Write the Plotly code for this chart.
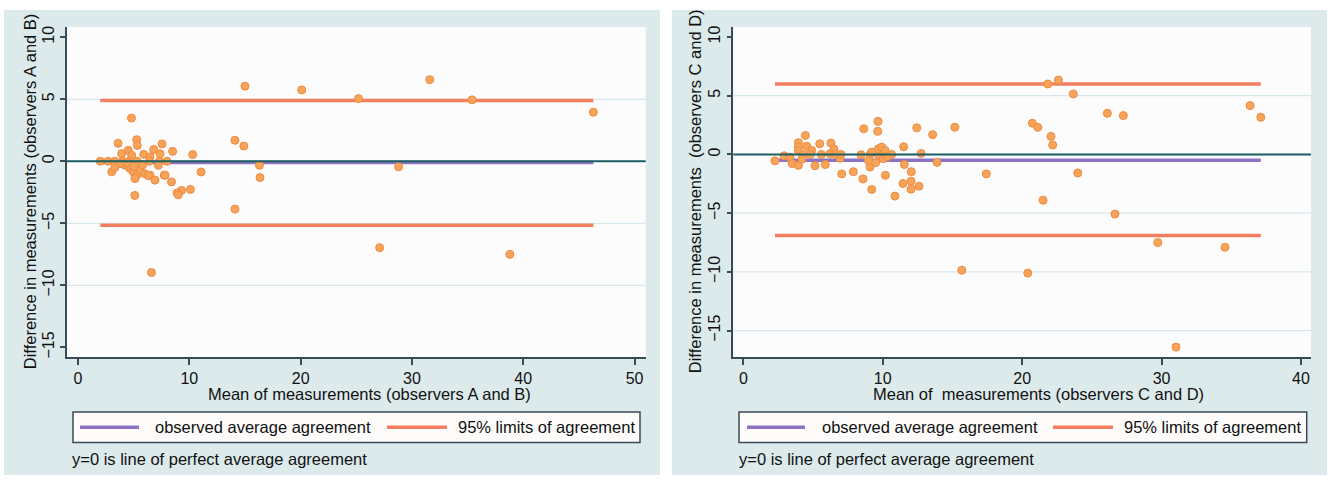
import plotly.graph_objects as go

W, H = 1330, 484

# ---------------- data ----------------
# Left panel: observers A and B
ab_mean = [15.0, 20.1, 25.2, 31.6, 35.4, 46.3, 28.8, 27.1, 38.8, 6.6,
           14.1, 14.9, 16.3, 16.35, 14.1, 10.3, 11.05, 10.1, 9.3, 8.9,
           5.1, 8.4, 7.75, 8.5, 7.55, 6.8, 5.9, 3.6, 5.27, 3.03,
           4.8, 5.33, 3.92, 4.52, 4.82, 7.37, 6.47,
           2.0, 2.7, 3.3, 4.0, 4.6, 5.3, 6.4, 7.3, 8.0,
           4.22, 4.67, 4.97, 5.27, 5.57, 5.12, 6.47, 6.92, 7.22, 7.82,
           3.77, 4.4, 5.8, 6.0, 5.0, 3.3, 6.3, 9.0]
ab_diff = [6.05, 5.75, 5.05, 6.58, 4.95, 3.96, -0.45, -6.96, -7.5, -8.96,
           1.69, 1.23, -0.32, -1.31, -3.85, 0.54, -0.86, -2.27, -2.35, -2.55,
           -2.75, -1.66, -1.12, 0.8, 1.4, 0.95, 0.56, 1.45, 1.74, -0.85,
           3.48, 1.28, 0.61, 0.88, 0.48, 0.61, 0.35,
           0.0, 0.0, 0.0, 0.0, 0.0, 0.0, 0.0, 0.0, 0.0,
           -0.32, -0.59, -0.86, -1.12, -0.72, -1.39, -1.12, -1.52, -0.32, -1.12,
           -0.19, -0.1, -0.3, -1.0, -0.4, -0.5, -1.15, -2.7]
ab_avg = -0.1
ab_limits = [-5.15, 4.9]

# Right panel: observers C and D
cd_mean = [21.84, 22.6, 23.67, 26.11, 27.26, 36.35, 37.12, 20.73, 21.12, 22.07,
           22.19, 23.99, 21.5, 26.66, 29.73, 34.55, 20.4, 31.04, 15.67, 17.43,
           15.17, 13.58, 12.44, 13.9, 12.75, 11.5, 11.55, 12.05, 11.45, 12.03,
           12.03, 12.6, 10.88, 10.19, 9.21, 8.58, 9.09, 8.64, 9.66, 9.64,
           7.06, 7.89,
           2.27, 2.93, 3.35, 3.5, 3.95, 4.45, 3.95, 3.95, 3.95, 4.55,
           4.9, 5.48, 5.14, 5.88, 6.28, 6.5, 6.22, 6.94, 4.3, 4.8,
           5.6, 6.6, 7.0, 8.44, 9.09, 9.69, 10.16, 10.64, 9.21, 9.69,
           9.93, 10.17, 10.04, 8.97, 9.5, 10.3, 4.2]
cd_diff = [5.99, 6.33, 5.14, 3.5, 3.3, 4.15, 3.16, 2.65, 2.3, 1.53,
           0.8, -1.58, -3.9, -5.08, -7.5, -7.9, -10.1, -16.4, -9.85, -1.66,
           2.31, 1.68, 2.26, -0.68, 0.08, 0.65, -0.86, -1.47, -2.48, -2.28,
           -2.96, -2.71, -3.55, -1.78, -2.98, -2.09, -1.07, 2.18, 2.81, 1.96,
           -1.66, -1.47,
           -0.55, -0.12, -0.23, -0.78, -0.93, 1.61, 1.0, 0.62, 0.3, 0.7,
           0.34, 0.9, -0.96, -0.86, 0.96, 0.45, 0.06, -0.33, 0.0, 0.0,
           0.0, 0.0, 0.0, -0.03, 0.0, 0.0, 0.0, 0.0, 0.2, 0.48,
           0.62, 0.34, -0.37, -0.51, -0.7, -0.2, -0.4]
cd_avg = -0.5
cd_limits = [-6.9, 6.0]

x_ticks_ab = [0, 10, 20, 30, 40, 50]
x_ticks_cd = [0, 10, 20, 30, 40]
y_ticks = [-15, -10, -5, 0, 5, 10]
grid_ab = [-10, -5, 0, 5]
grid_cd = [-15, -10, -5, 0, 5]

xtitle_ab = "Mean of measurements (observers A and B)"
xtitle_cd = "Mean of\u00a0 measurements (observers C and D)"
ytitle_ab = "Difference in measurements (observers A and B)"
ytitle_cd = "Difference in measurements\u00a0 (observers C and D)"
legend_labels = ["observed average agreement", "95% limits of agreement"]
note_text = "y=0 is line of perfect average agreement"

# ---------------- styles ----------------
FONT = "Liberation Sans, Arial, sans-serif"
PANEL = "#DCEAEC"
PLOTBG = "#FCFCFD"
AXIS = "#3A4A56"
GRID = "#CFE4EA"
ORANGE_PT = "#F8A458"
ORANGE_EDGE = "#EE8B43"
LIMIT = "#F47F60"
PURPLE = "#8E72C2"
TEAL = "#1B5F63"
TXT = "#111111"

def px(x):
    return x / W

def py(y):
    return 1 - y / H

# plot-area geometry (pixels)
L1, R1 = 67, 645.7
L2, R2 = 733.3, 1311
TOP, BOT = 26, 357.7

fig = go.Figure()

def add_panel(xa, ya, xs, ys, avg, lims):
    xmin, xmax = min(xs), max(xs)
    # limits
    for j, lv in enumerate(lims):
        fig.add_trace(go.Scatter(x=[xmin, xmax], y=[lv, lv], mode="lines",
                                 line=dict(color=LIMIT, width=3.5),
                                 xaxis=xa, yaxis=ya, showlegend=False, hoverinfo="skip"))
    # average
    fig.add_trace(go.Scatter(x=[xmin, xmax], y=[avg, avg], mode="lines",
                             line=dict(color=PURPLE, width=3.5),
                             xaxis=xa, yaxis=ya, showlegend=False, hoverinfo="skip"))
    # points
    fig.add_trace(go.Scatter(x=xs, y=ys, mode="markers",
                             marker=dict(size=8, color=ORANGE_PT,
                                         line=dict(color=ORANGE_EDGE, width=1)),
                             xaxis=xa, yaxis=ya, showlegend=False))

add_panel("x", "y", ab_mean, ab_diff, ab_avg, ab_limits)
add_panel("x2", "y2", cd_mean, cd_diff, cd_avg, cd_limits)

shapes = []
# panel backgrounds
for (a, b) in [(4, 660), (672, 1327)]:
    shapes.append(dict(type="rect", xref="paper", yref="paper",
                       x0=px(a), x1=px(b), y0=py(476), y1=py(9),
                       fillcolor=PANEL, line=dict(width=0), layer="below"))
# plot backgrounds
for (a, b) in [(L1, R1), (L2, R2)]:
    shapes.append(dict(type="rect", xref="paper", yref="paper",
                       x0=px(a), x1=px(b), y0=py(BOT), y1=py(TOP),
                       fillcolor=PLOTBG, line=dict(width=0), layer="below"))
# gridlines
for xr, yr, vals in [("x", "y", grid_ab), ("x2", "y2", grid_cd)]:
    for v in vals:
        shapes.append(dict(type="line", xref=xr + " domain", yref=yr,
                           x0=0, x1=1, y0=v, y1=v,
                           line=dict(color=GRID, width=1), layer="below"))
# y=0 perfect agreement line (above traces)
for xr, yr in [("x", "y"), ("x2", "y2")]:
    shapes.append(dict(type="line", xref=xr + " domain", yref=yr,
                       x0=0, x1=1, y0=0, y1=0,
                       line=dict(color=TEAL, width=2), layer="above"))

annotations = []

def legend_block(box_l, box_r, s1, t1, s2, t2, note_x, xt_center, xtitle, yt_x, ytitle):
    shapes.append(dict(type="rect", xref="paper", yref="paper",
                       x0=px(box_l), x1=px(box_r), y0=py(443.3), y1=py(412.7),
                       fillcolor="#FDFCFB", line=dict(color=AXIS, width=1.5)))
    shapes.append(dict(type="line", xref="paper", yref="paper",
                       x0=px(s1[0]), x1=px(s1[1]), y0=py(428), y1=py(428),
                       line=dict(color=PURPLE, width=3.5)))
    shapes.append(dict(type="line", xref="paper", yref="paper",
                       x0=px(s2[0]), x1=px(s2[1]), y0=py(428), y1=py(428),
                       line=dict(color=LIMIT, width=3.5)))
    for tx, lab in [(t1, legend_labels[0]), (t2, legend_labels[1])]:
        annotations.append(dict(xref="paper", yref="paper", x=px(tx), y=py(428),
                                text=lab, showarrow=False, xanchor="left", yanchor="middle",
                                font=dict(family=FONT, size=16.5, color=TXT)))
    annotations.append(dict(xref="paper", yref="paper", x=px(note_x), y=py(460),
                            text=note_text, showarrow=False, xanchor="left", yanchor="middle",
                            font=dict(family=FONT, size=16.5, color=TXT)))
    annotations.append(dict(xref="paper", yref="paper", x=px(xt_center), y=py(395),
                            text=xtitle, showarrow=False, xanchor="center", yanchor="middle",
                            font=dict(family=FONT, size=16.5, color=TXT)))
    annotations.append(dict(xref="paper", yref="paper", x=px(yt_x), y=py(191),
                            text=ytitle, showarrow=False, xanchor="center", yanchor="middle",
                            textangle=-90,
                            font=dict(family=FONT, size=16.5, color=TXT)))

legend_block(73, 640, (80, 139), 153, (387, 447), 456, 70, 369, xtitle_ab, 30, ytitle_ab)
legend_block(739, 1306.7, (747, 805), 820, (1053, 1113), 1122, 737, 1038, xtitle_cd, 695, ytitle_cd)

axis_common = dict(showgrid=False, zeroline=False, showline=True, linecolor=AXIS,
                   linewidth=1.5, ticks="outside", tickcolor=AXIS, tickwidth=1.5,
                   tickfont=dict(family=FONT, size=16, color=TXT), fixedrange=True)

fig.update_layout(
    width=W, height=H,
    margin=dict(l=0, r=0, t=0, b=0),
    paper_bgcolor="white",
    plot_bgcolor="rgba(0,0,0,0)",
    showlegend=False,
    shapes=shapes,
    annotations=annotations,
    xaxis=dict(domain=[px(L1), px(R1)], range=[-0.99, 51.0], tickvals=x_ticks_ab,
               ticklen=6, anchor="y", **axis_common),
    yaxis=dict(domain=[py(BOT), py(TOP)], range=[-15.79, 10.83], tickvals=y_ticks,
               ticklen=5, tickangle=-90, anchor="x", **axis_common),
    xaxis2=dict(domain=[px(L2), px(R2)], range=[-0.72, 40.72], tickvals=x_ticks_cd,
                ticklen=6, anchor="y2", **axis_common),
    yaxis2=dict(domain=[py(BOT), py(TOP)], range=[-17.26, 10.85], tickvals=y_ticks,
                ticklen=5, tickangle=-90, anchor="x2", **axis_common),
)

fig.write_html("out.html")
